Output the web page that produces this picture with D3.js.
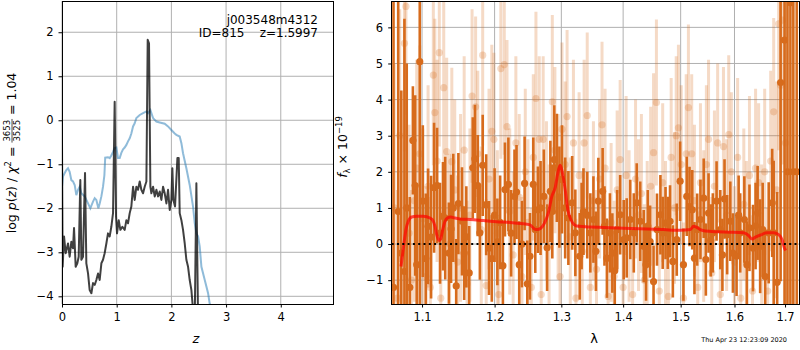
<!DOCTYPE html>
<html>
<head>
<meta charset="utf-8">
<script src="https://cdn.jsdelivr.net/npm/d3@7"></script>
<style>
body { margin: 0; background: #fff; }
text { font-family: "DejaVu Sans", sans-serif; }
</style>
</head>
<body>
<script>
// left panel: log p(z) (dark) and chi2 prior curve (blue)
var zBlack = [0.000,0.012,0.037,0.067,0.110,0.140,0.171,0.201,0.220,0.250,0.280,0.305,0.335,0.354,0.384,0.421,0.445,0.476,0.506,0.537,0.567,0.598,0.628,0.659,0.689,0.720,0.750,0.780,0.811,0.841,0.872,0.902,0.933,0.963,0.988,1.006,1.037,1.067,1.104,1.146,1.177,1.207,1.238,1.268,1.299,1.329,1.360,1.390,1.421,1.451,1.482,1.512,1.543,1.567,1.591,1.616,1.634,1.665,1.695,1.726,1.756,1.787,1.817,1.848,1.878,1.909,1.939,1.970,2.000,2.018,2.037,2.067,2.110,2.134,2.152,2.183,2.213,2.244,2.274,2.305,2.335,2.366,2.396,2.427,2.457,2.488,2.518,2.579];
var logpBlack = [-0.48,-3.33,-2.64,-3.02,-2.80,-3.10,-2.76,-2.91,-2.45,-3.33,-3.25,-3.10,-1.36,-3.17,-3.10,-1.20,-3.25,-3.48,-3.86,-3.93,-3.70,-3.74,-3.63,-3.48,-3.63,-3.25,-3.17,-3.02,-2.80,-2.57,-2.64,-2.42,-2.11,0.42,-2.19,-2.57,-2.27,-2.49,-2.42,-2.49,-2.27,-2.34,-2.11,-1.96,-1.51,-1.81,-1.51,-1.58,-1.39,-1.58,-1.66,-1.51,-1.39,1.83,1.75,-1.51,-1.66,-1.51,-1.73,-1.58,-1.73,-1.62,-1.81,-1.51,-1.66,-1.89,-1.58,-2.04,-1.81,-1.09,-1.81,-1.96,-0.86,-0.86,-2.11,-2.27,-2.49,-2.80,-3.17,-3.33,-3.63,-3.86,-4.31,-4.54,-1.43,-4.54,-4.84,-5.20];
var zBlue = [0.000,0.018,0.049,0.079,0.110,0.140,0.171,0.201,0.232,0.262,0.293,0.323,0.354,0.415,0.476,0.518,0.567,0.598,0.628,0.665,0.689,0.720,0.750,0.775,0.790,0.841,0.872,0.902,0.933,0.963,0.994,1.024,1.055,1.085,1.116,1.146,1.177,1.207,1.238,1.268,1.299,1.329,1.360,1.421,1.482,1.543,1.573,1.616,1.665,1.726,1.787,1.878,1.939,2.000,2.061,2.091,2.152,2.183,2.213,2.274,2.335,2.396,2.427,2.457,2.488,2.518,2.549,2.610,2.671,2.701,2.762];
var logpBlue = [-1.51,-1.28,-1.20,-1.13,-1.09,-1.17,-1.36,-1.39,-1.47,-1.70,-1.58,-1.51,-1.66,-1.73,-1.89,-2.00,-1.85,-1.77,-1.81,-2.00,-1.89,-1.73,-1.51,-1.25,-0.85,-0.84,-0.86,-0.80,-0.72,-0.63,-0.62,-0.86,-0.86,-0.74,-0.66,-0.62,-0.56,-0.48,-0.41,-0.30,-0.14,-0.07,0.05,0.12,0.16,0.20,0.16,0.23,0.05,-0.03,-0.05,-0.08,-0.14,-0.22,-0.30,-0.33,-0.37,-0.52,-0.75,-1.09,-1.47,-1.96,-2.34,-2.57,-2.64,-2.87,-3.33,-3.63,-3.93,-4.17,-4.54];
var zTicks = [0, 1, 2, 3, 4];
var logpTicks = [-4, -3, -2, -1, 0, 1, 2];

// right panel: spectrum, two beams + model
var darkWave = [1.063,1.069,1.073,1.077,1.080,1.084,1.088,1.091,1.093,1.097,1.101,1.105,1.108,1.112,1.116,1.120,1.124,1.128,1.131,1.136,1.139,1.142,1.146,1.149,1.154,1.157,1.160,1.164,1.169,1.172,1.176,1.179,1.183,1.188,1.192,1.196,1.200,1.204,1.208,1.212,1.215,1.220,1.224,1.229,1.232,1.236,1.240,1.244,1.248,1.252,1.257,1.260,1.264,1.268,1.273,1.278,1.283,1.286,1.289,1.293,1.297,1.301,1.306,1.311,1.317,1.322,1.329,1.332,1.335,1.341,1.346,1.351,1.355,1.359,1.366,1.369,1.373,1.378,1.382,1.386,1.390,1.395,1.401,1.406,1.412,1.418,1.423,1.429,1.435,1.439,1.442,1.446,1.452,1.458,1.464,1.468,1.473,1.477,1.481,1.486,1.493,1.499,1.505,1.511,1.516,1.521,1.525,1.530,1.536,1.542,1.546,1.551,1.555,1.559,1.566,1.573,1.577,1.581,1.586,1.592,1.597,1.604,1.608,1.611,1.619,1.624,1.629,1.636,1.641,1.645,1.650,1.655,1.660,1.667,1.674,1.677,1.684,1.691,1.699,1.705,1.711,1.717,1.724];
var darkFlux = [-1.2,0.9,-0.25,-0.76,1.0,-1.2,2.87,1.62,-0.57,5.05,1.19,-0.4,0.49,0.19,1.56,1.62,0.3,0.77,0.72,-0.25,0.42,1.0,-1.16,1.12,0.63,-0.25,0.2,-0.8,2.11,2.36,1.62,0.31,2.18,1.09,-0.11,-0.4,0.8,0.06,0.6,-0.6,1.51,1.65,0.3,1.32,1.44,-0.57,0.0,1.68,-1.1,-0.34,1.65,0.4,0.95,1.0,1.32,-0.1,1.46,0.9,2.34,2.11,1.3,1.79,1.0,0.72,1.14,0.31,-0.34,0.5,0.9,0.8,0.31,0.68,-0.2,1.19,1.46,0.5,-0.39,0.31,-0.25,-0.74,0.4,0.81,0.12,0.17,0.68,0.31,1.14,0.63,-0.06,-0.57,0.5,0.07,-1.04,0.4,0.81,0.31,0.58,0.31,0.63,-0.48,0.12,1.74,-0.57,1.32,1.04,0.95,-0.39,0.4,0.68,1.27,-0.43,0.86,0.1,0.31,1.19,0.4,-0.3,1.25,0.26,0.63,-0.25,-0.34,0.8,0.31,0.68,-0.57,0.45,-0.11,0.5,0.86,-0.06,0.4,-0.9,0.31,1.14,0.31,-1.06,4.47,5.65,2.0,6.68,2.0,2.0];
var darkErr = [9,9,4.5,7,4,2.5,1.5,2.5,2.2,9,2.1,1.8,1.6,1.7,1.8,1.6,1.4,1.5,1.7,1.4,1.5,1.5,1.3,1.4,1.5,1.3,1.4,1.3,1.4,1.5,1.4,1.3,1.4,1.4,1.3,1.2,1.3,1.2,1.3,1.2,1.3,1.3,1.2,1.3,1.3,1.2,1.2,1.3,1.2,1.2,1.3,1.2,1.2,1.3,1.3,1.2,1.4,1.3,1.5,1.5,1.4,1.5,1.4,1.3,1.3,1.2,1.2,1.2,1.2,1.2,1.1,1.2,1.1,1.2,1.2,1.1,1.1,1.1,1.1,1.1,1.1,1.1,1.1,1.1,1.1,1.1,1.1,1.1,1.0,1.0,1.0,1.0,1.0,1.0,1.1,1.0,1.0,1.0,1.0,1.0,1.0,1.1,1.0,1.1,1.1,1.1,1.0,1.0,1.1,1.1,1.0,1.1,1.0,1.1,1.1,1.1,1.0,1.1,1.1,1.1,1.1,1.1,1.1,1.1,1.2,1.2,1.2,1.2,1.2,1.3,1.3,1.3,1.3,1.4,1.5,2.0,2.5,5.5,8,10,10,12,12];
var lightWave = [1.064,1.068,1.071,1.077,1.079,1.083,1.086,1.090,1.093,1.097,1.101,1.105,1.108,1.111,1.115,1.117,1.120,1.123,1.125,1.129,1.133,1.137,1.140,1.144,1.148,1.152,1.157,1.161,1.165,1.168,1.173,1.176,1.181,1.183,1.188,1.192,1.196,1.199,1.204,1.206,1.209,1.214,1.218,1.222,1.227,1.231,1.236,1.240,1.245,1.249,1.254,1.257,1.261,1.266,1.269,1.272,1.277,1.281,1.286,1.290,1.295,1.298,1.301,1.306,1.309,1.314,1.319,1.323,1.328,1.333,1.336,1.341,1.346,1.351,1.356,1.361,1.365,1.370,1.375,1.380,1.385,1.390,1.395,1.400,1.405,1.410,1.416,1.421,1.426,1.431,1.436,1.441,1.447,1.452,1.457,1.462,1.468,1.473,1.478,1.483,1.489,1.492,1.496,1.501,1.505,1.510,1.514,1.520,1.525,1.531,1.536,1.542,1.547,1.551,1.557,1.562,1.568,1.573,1.579,1.585,1.589,1.594,1.600,1.606,1.612,1.618,1.623,1.629,1.635,1.641,1.647,1.653,1.659,1.665,1.671,1.677,1.683,1.687,1.691,1.695,1.701];
var lightFlux = [1.0,-1.5,3.0,5.56,6.58,0.3,-1.0,1.2,2.1,2.5,0.7,-0.9,1.6,-1.2,4.68,3.64,2.3,5.3,-1.5,4.33,2.56,0.0,2.28,1.5,-0.5,1.0,2.6,-1.1,0.8,4.1,3.8,2.5,0.4,5.23,-1.15,1.8,3.12,2.9,0.3,-1.4,4.86,4.97,3.25,0.9,-0.3,2.8,1.3,-0.9,2.0,0.6,-1.2,2.4,4.03,2.9,-1.4,2.9,1.2,0.0,3.94,2.6,1.3,-0.9,3.18,2.2,3.53,0.2,2.8,-1.5,1.9,-0.2,2.8,3.56,-1.2,1.2,-0.7,1.8,3.3,2.1,-1.45,0.6,-0.9,1.5,2.34,-1.2,1.9,0.5,-1.4,1.8,0.8,1.4,-1.0,0.2,1.6,2.53,3.92,-1.3,1.7,0.2,-1.45,2.4,1.0,3.0,3.22,2.2,-1.5,2.5,3.78,2.5,1.2,-1.2,1.7,0.5,2.2,2.9,-0.8,1.6,2.8,-1.4,2.7,0.8,3.03,2.0,-0.5,2.4,-1.5,1.1,0.2,1.9,-1.3,2.1,1.7,0.0,2.0,-1.3,2.3,3.66,1.5,6.1,4.4,6.2,2.8];
var lightErr = [4,3,3.5,3,3,3,2.5,2.8,3,3,2.5,2.5,2.8,2.5,2.5,2.6,2.8,2.6,2.4,2.5,2.6,2.5,2.6,2.5,2.4,2.6,2.6,2.3,2.4,2.4,2.5,2.3,2.3,2.5,2.4,2.5,2.4,2.4,2.3,2.2,2.5,2.5,2.4,2.3,2.3,2.4,2.3,2.2,2.3,2.3,2.2,2.3,2.4,2.3,2.2,2.3,2.2,2.2,2.4,2.3,2.3,2.2,2.4,2.3,2.4,2.2,2.3,2.2,2.3,2.2,2.3,2.3,2.2,2.2,2.2,2.2,2.3,2.2,2.1,2.2,2.1,2.2,2.2,2.1,2.2,2.1,2.1,2.2,2.1,2.2,2.1,2.1,2.2,2.2,2.3,2.1,2.2,2.1,2.1,2.2,2.1,2.2,2.3,2.2,2.1,2.2,2.3,2.2,2.1,2.1,2.2,2.1,2.2,2.2,2.1,2.1,2.2,2.1,2.2,2.1,2.2,2.2,2.1,2.2,2.1,2.1,2.1,2.2,2.1,2.2,2.2,2.2,2.3,2.3,2.5,2.6,3,3.5,4,4,5];
var modelWave = [1.0726,1.0748,1.0765,1.079,1.082,1.0864,1.093,1.1017,1.1106,1.1142,1.1173,1.1195,1.1226,1.1249,1.1276,1.1308,1.1339,1.1385,1.1444,1.1536,1.1652,1.184,1.2031,1.2225,1.2422,1.2522,1.2572,1.2623,1.2684,1.2739,1.2801,1.2853,1.2904,1.2946,1.2982,1.3017,1.306,1.3102,1.3149,1.3201,1.327,1.3458,1.3674,1.4006,1.4405,1.4695,1.4993,1.5174,1.5234,1.5284,1.5357,1.545,1.5668,1.5921,1.6177,1.6255,1.6341,1.6406,1.6505,1.6638,1.6771,1.6871,1.694,1.6987,1.7013];
var modelFlux = [-0.62,-0.25,0.03,0.4,0.63,0.75,0.77,0.77,0.72,0.66,0.49,0.26,0.1,0.14,0.4,0.63,0.72,0.75,0.72,0.69,0.68,0.65,0.62,0.6,0.56,0.53,0.44,0.4,0.44,0.58,0.88,1.32,1.56,1.97,2.18,1.97,1.51,0.95,0.68,0.54,0.49,0.47,0.46,0.44,0.42,0.4,0.38,0.4,0.49,0.47,0.4,0.36,0.34,0.33,0.31,0.26,0.14,0.19,0.25,0.31,0.31,0.26,0.12,-0.11,-0.18];
var waveTicks = [1.1, 1.2, 1.3, 1.4, 1.5, 1.6, 1.7];
var fluxTicks = [-1, 0, 1, 2, 3, 4, 5, 6];

var width = 800,
    height = 350;

var orange = "#d76b1c";

var svg = d3.select("body").append("svg")
    .attr("width", width)
    .attr("height", height);

var defs = svg.append("defs");

function clip(id, b) {
  defs.append("clipPath").attr("id", id)
    .append("rect")
      .attr("x", b.left).attr("y", b.top)
      .attr("width", b.right - b.left).attr("height", b.bottom - b.top);
}

function grid(g, b, x, y, xt, yt) {
  g.selectAll(".gx").data(xt).enter().append("line")
      .attr("x1", x).attr("x2", x)
      .attr("y1", b.top).attr("y2", b.bottom)
      .attr("stroke", "#b0b0b0").attr("stroke-width", 1);
  g.selectAll(".gy").data(yt).enter().append("line")
      .attr("y1", y).attr("y2", y)
      .attr("x1", b.left).attr("x2", b.right)
      .attr("stroke", "#b0b0b0").attr("stroke-width", 1);
}

function axes(g, b, x, y, xt, yt, xf, yf) {
  var ax = g.append("g")
      .attr("transform", "translate(0," + b.bottom + ")")
      .call(d3.axisBottom(x).tickValues(xt).tickSize(3.5).tickPadding(5).tickFormat(xf));
  var ay = g.append("g")
      .attr("transform", "translate(" + b.left + ",0)")
      .call(d3.axisLeft(y).tickValues(yt).tickSize(3.5).tickPadding(5).tickFormat(yf));
  [ax, ay].forEach(function(a) {
    a.select(".domain").remove();
    a.selectAll("line").attr("stroke", "#000");
    a.selectAll("text").attr("fill", "#000").style("font-size", "11.5px")
      .style("font-family", "'DejaVu Sans', sans-serif");
  });
  g.append("rect")
      .attr("x", b.left).attr("y", b.top)
      .attr("width", b.right - b.left).attr("height", b.bottom - b.top)
      .attr("fill", "none").attr("stroke", "#000").attr("stroke-width", 1)
      .attr("shape-rendering", "crispEdges");
}

// ---------------- LEFT PANEL ----------------
var L = {left: 62, right: 333, top: 1, bottom: 304};
var xz = d3.scaleLinear().domain([0, 4.955]).range([L.left, L.right]);
var yp = d3.scaleLinear().domain([-4.175, 2.71]).range([L.bottom, L.top]);
clip("clipL", L);

var gL = svg.append("g");
grid(gL, L, xz, yp, zTicks, logpTicks);

var line = d3.line()
    .x(function(d) { return xz(d[0]); })
    .y(function(d) { return yp(d[1]); });

var plotL = gL.append("g").attr("clip-path", "url(#clipL)");
plotL.append("path")
    .datum(zBlue.map(function(z, i) { return [z, logpBlue[i]]; }))
    .attr("d", line)
    .attr("fill", "none").attr("stroke", "#1f77b4").attr("stroke-opacity", 0.5)
    .attr("stroke-width", 2);
plotL.append("path")
    .datum(zBlack.map(function(z, i) { return [z, logpBlack[i]]; }))
    .attr("d", line)
    .attr("fill", "none").attr("stroke", "#000").attr("stroke-opacity", 0.75)
    .attr("stroke-width", 2).attr("stroke-linejoin", "round");

axes(gL, L, xz, yp, zTicks, logpTicks, d3.format("d"), d3.format("d"));

// object name / redshift, top right
gL.append("text")
    .attr("x", 318).attr("y", 24).attr("text-anchor", "end")
    .style("font-size", "12px")
    .text("j003548m4312");
gL.append("text")
    .attr("x", 318).attr("y", 37).attr("text-anchor", "end")
    .style("font-size", "12px")
    .text("ID=815\u00a0\u00a0\u00a0\u00a0z=1.5997");

// x label
gL.append("text")
    .attr("x", 196).attr("y", 343).attr("text-anchor", "middle")
    .style("font-size", "13px").style("font-style", "italic")
    .text("z");

// y label with fraction: log p(z) / chi2 = 3653/3525 = 1.04
var yl = gL.append("g");
var t1 = yl.append("text").style("font-size", "12.5px");
t1.append("tspan").text("log\u00a0");
t1.append("tspan").style("font-style", "italic").text("p");
t1.append("tspan").text("(");
t1.append("tspan").style("font-style", "italic").text("z");
t1.append("tspan").text(")\u00a0/\u00a0");
t1.append("tspan").style("font-style", "italic").text("\u03c7");
t1.append("tspan").style("font-size", "8.5px").attr("dy", -5).text("2");
t1.append("tspan").attr("dy", 5).text("\u00a0=\u00a0");
var w1 = t1.node().getComputedTextLength();
var num = yl.append("text").style("font-size", "8.5px").attr("x", w1 + 1).attr("y", -6).text("3653");
var den = yl.append("text").style("font-size", "8.5px").attr("x", w1 + 1).attr("y", 4).text("3525");
var wf = Math.max(num.node().getComputedTextLength(), den.node().getComputedTextLength()) + 2;
yl.append("line").attr("x1", w1).attr("x2", w1 + wf).attr("y1", -4).attr("y2", -4)
    .attr("stroke", "#000").attr("stroke-width", 0.7);
var t2 = yl.append("text").style("font-size", "12.5px").attr("x", w1 + wf).text("\u00a0=\u00a01.04");
var wTot = w1 + wf + t2.node().getComputedTextLength();
yl.attr("transform", "translate(16," + (153 + wTot / 2) + ") rotate(-90)");

// ---------------- RIGHT PANEL ----------------
var R = {left: 391.7, right: 799, top: 1, bottom: 304};
var xw = d3.scaleLog().domain([1.0607, 1.7287]).range([R.left, R.right]);
var yf = d3.scaleLinear().domain([-1.66, 6.73]).range([R.bottom, R.top]);
clip("clipR", R);

var gR = svg.append("g");
grid(gR, R, xw, yf, waveTicks, fluxTicks);

var plotR = gR.append("g").attr("clip-path", "url(#clipR)");

function beam(wave, flux, err, opacity, sw) {
  var pts = wave.map(function(w, i) { return {w: w, f: flux[i], e: err[i]}; });
  var g = plotR.append("g");
  g.selectAll("line").data(pts).enter().append("line")
      .attr("x1", function(d) { return xw(d.w); })
      .attr("x2", function(d) { return xw(d.w); })
      .attr("y1", function(d) { return yf(d.f - d.e); })
      .attr("y2", function(d) { return yf(d.f + d.e); })
      .attr("stroke", orange).attr("stroke-opacity", opacity)
      .attr("stroke-width", sw);
  g.selectAll("circle").data(pts).enter().append("circle")
      .attr("cx", function(d) { return xw(d.w); })
      .attr("cy", function(d) { return yf(d.f); })
      .attr("r", 3.6)
      .attr("fill", orange).attr("fill-opacity", opacity);
}

beam(lightWave, lightFlux, lightErr, 0.25, 3);
beam(darkWave, darkFlux, darkErr, 1, 2.6);

plotR.append("path")
    .datum(modelWave.map(function(w, i) { return [w, modelFlux[i]]; }))
    .attr("d", d3.line().curve(d3.curveMonotoneX)
      .x(function(d) { return xw(d[0]); })
      .y(function(d) { return yf(d[1]); }))
    .attr("fill", "none").attr("stroke", "red").attr("stroke-opacity", 0.7)
    .attr("stroke-width", 3).attr("stroke-linejoin", "round");

plotR.append("line")
    .attr("x1", R.left).attr("x2", R.right)
    .attr("y1", yf(0)).attr("y2", yf(0))
    .attr("stroke", "#000").attr("stroke-width", 2)
    .attr("stroke-dasharray", "2,3.3");

axes(gR, R, xw, yf, waveTicks, fluxTicks, d3.format(".1f"), d3.format("d"));

gR.append("text")
    .attr("x", 594).attr("y", 343).attr("text-anchor", "middle")
    .style("font-size", "13px")
    .text("\u03bb");

var fl = gR.append("text")
    .attr("transform", "translate(347,147) rotate(-90)")
    .attr("text-anchor", "middle")
    .style("font-size", "12.5px");
fl.append("tspan").style("font-style", "italic").text("f");
fl.append("tspan").style("font-size", "8.5px").attr("dy", 3).text("\u03bb");
fl.append("tspan").attr("dy", -3).text("\u00a0\u00d7\u00a010");
fl.append("tspan").style("font-size", "8.5px").attr("dy", -5).text("\u221219");

svg.append("text")
    .attr("x", 787).attr("y", 342).attr("text-anchor", "end")
    .style("font-size", "6.5px")
    .text("Thu Apr 23 12:23:09 2020");
</script>
</body>
</html>
